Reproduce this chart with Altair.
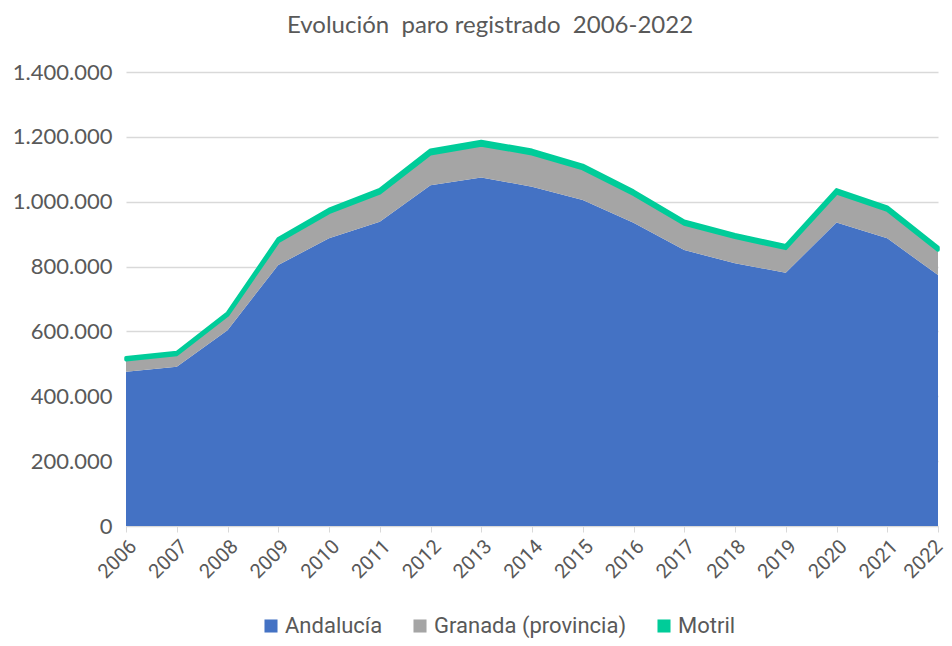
import altair as alt
import pandas as pd

years = list(range(2006, 2023))
andalucia = [476000, 491000, 604000, 805000, 887000, 938000, 1051000, 1075000, 1046000,
             1005000, 935000, 851000, 810000, 781000, 936000, 887000, 774000]
granada = [37000, 38000, 46000, 72000, 80000, 89000, 97000, 100000, 102000,
           97000, 88000, 80000, 80000, 75000, 91000, 87000, 77000]
motril = [5500, 5700, 6700, 8800, 9300, 9900, 10700, 10800, 10500,
          10100, 9500, 8800, 8400, 8100, 9600, 9000, 7900]

series = ["Andalucía", "Granada (provincia)", "Motril"]
colors = ["#4472C4", "#A5A5A5", "#00CC99"]

rows = []
for i, y in enumerate(years):
    for k, (name, vals) in enumerate(zip(series, [andalucia, granada, motril])):
        rows.append({"year": y, "serie": name, "value": vals[i], "ord": k})
df = pd.DataFrame(rows)

label_font = "Lato"
txt = "#595959"

chart = alt.Chart(df).mark_area(strokeJoin="round").encode(
    x=alt.X("year:Q", scale=alt.Scale(domain=[2006, 2022], nice=False, zero=False),
            axis=alt.Axis(values=years, format="d", title=None, labelAngle=-45,
                          labelFont="Roboto", labelFontSize=20, labelColor=txt,
                          labelOverlap=False,
                          labelOffset=alt.condition("datum.value == 2022", alt.value(-6), alt.value(0)),
                          domainColor="#d9d9d9", tickColor="#d9d9d9", tickSize=6,
                          grid=False, labelPadding=4)),
    y=alt.Y("value:Q", stack="zero",
            scale=alt.Scale(domain=[0, 1400000], nice=False),
            axis=alt.Axis(values=[0, 200000, 400000, 600000, 800000, 1000000, 1200000, 1400000],
                          labelExpr="replace(format(datum.value, ','), regexp(',', 'g'), '.')",
                          title=None, domain=False, ticks=False, labelPadding=14,
                          labelFont=label_font, labelFontSize=22, labelColor=txt,
                          gridColor="#d9d9d9", gridWidth=1.3)),
    color=alt.Color("serie:N", sort=series,
                    scale=alt.Scale(domain=series, range=colors),
                    legend=alt.Legend(title=None, orient="none", direction="horizontal",
                                      legendX=134, legendY=543,
                                      symbolType="square", symbolSize=170,
                                      symbolStrokeWidth=0, labelFont="Roboto",
                                      labelFontSize=22, labelColor=txt, labelLimit=400,
                                      columnPadding=26, labelOffset=3)),
    order=alt.Order("ord:Q", sort="ascending"),
    stroke=alt.value("#00CC99"),
    strokeWidth=alt.condition("datum.serie === 'Motril'", alt.value(3.5), alt.value(0)),
).properties(
    width=812,
    height=454,
    padding={"left": 118, "top": 64, "right": 6, "bottom": 112},
    autosize=alt.AutoSizeParams(type="none"),
    title=alt.TitleParams("Evolución\u00a0 paro registrado\u00a0 2006-2022",
                          font=label_font, fontSize=24, color=txt, fontWeight="normal",
                          anchor="middle", dx=-42, offset=23),
).configure_view(stroke=None)

chart.save("out.html", embed_options={"renderer": "svg", "actions": False})
